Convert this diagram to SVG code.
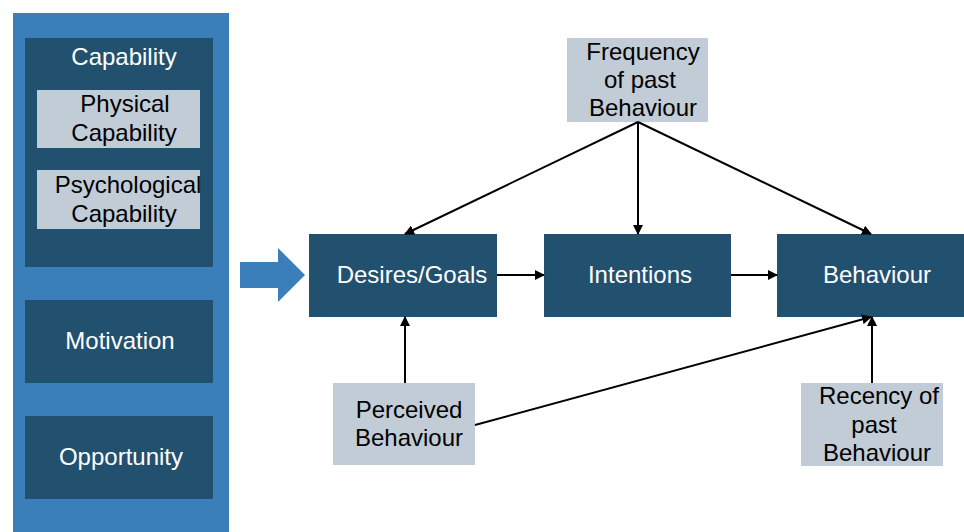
<svg xmlns="http://www.w3.org/2000/svg" width="964" height="532" viewBox="0 0 964 532">
<defs>
<style>
.outer{fill:#3A7EBA}
.dark{fill:#22506F}
.light{fill:#C2CCD7}
.wt{fill:#FFFFFF;font-family:"Liberation Sans",Arial,sans-serif;font-size:24px;text-anchor:middle}
.bt{fill:#000000;font-family:"Liberation Sans",Arial,sans-serif;font-size:24px;text-anchor:middle}
.conn{stroke:#000;stroke-width:2;fill:none;marker-end:url(#ah)}
</style>
<marker id="ah" viewBox="0 0 10 10" refX="9" refY="5" markerWidth="5" markerHeight="5" orient="auto" markerUnits="strokeWidth">
<path d="M0,0 L10,5 L0,10 z" fill="#000"/>
</marker>
</defs>
<rect width="964" height="532" fill="#FFFFFF"/>
<g id="com-b-panel">
<rect class="outer" x="13" y="13" width="216" height="525"/>
</g>
<g id="capability">
<rect class="dark" x="25" y="38" width="188" height="229"/>
<text class="wt" x="124" y="65">Capability</text>
</g>
<g id="physical-capability">
<rect class="light" x="37" y="90" width="163" height="58"/>
<text class="bt" x="125" y="112">Physical</text>
<text class="bt" x="124" y="141">Capability</text>
</g>
<g id="psychological-capability">
<rect class="light" x="37" y="170" width="163" height="59"/>
<text class="bt" x="128" y="193">Psychological</text>
<text class="bt" x="124" y="222">Capability</text>
</g>
<g id="motivation">
<rect class="dark" x="25" y="300" width="188" height="83"/>
<text class="wt" x="120" y="349">Motivation</text>
</g>
<g id="opportunity">
<rect class="dark" x="25" y="416" width="188" height="83"/>
<text class="wt" x="121" y="465">Opportunity</text>
</g>
<g id="big-arrow">
<path class="outer" d="M240,262 L278,262 L278,248 L305,275 L278,302 L278,288 L240,288 z"/>
</g>
<g id="desires-goals">
<rect class="dark" x="309" y="234" width="188" height="83"/>
<text class="wt" x="412" y="283">Desires/Goals</text>
</g>
<g id="intentions">
<rect class="dark" x="544" y="234" width="187" height="83"/>
<text class="wt" x="640" y="283">Intentions</text>
</g>
<g id="behaviour">
<rect class="dark" x="777" y="234" width="187" height="83"/>
<text class="wt" x="877" y="283">Behaviour</text>
</g>
<g id="frequency">
<rect class="light" x="567" y="38" width="141" height="84"/>
<text class="bt" x="643" y="60">Frequency</text>
<text class="bt" x="640" y="88">of past</text>
<text class="bt" x="643" y="116">Behaviour</text>
</g>
<g id="perceived">
<rect class="light" x="333" y="383" width="142" height="82"/>
<text class="bt" x="409" y="418">Perceived</text>
<text class="bt" x="409" y="446">Behaviour</text>
</g>
<g id="recency">
<rect class="light" x="801" y="383" width="142" height="83"/>
<text class="bt" x="879" y="404">Recency of</text>
<text class="bt" x="874" y="433">past</text>
<text class="bt" x="877" y="461">Behaviour</text>
</g>
<g id="connectors">
<line class="conn" x1="638" y1="122" x2="405" y2="234"/>
<line class="conn" x1="638" y1="122" x2="638" y2="234"/>
<line class="conn" x1="638" y1="122" x2="871" y2="234"/>
<line class="conn" x1="497" y1="275" x2="544" y2="275"/>
<line class="conn" x1="731" y1="275" x2="777" y2="275"/>
<line class="conn" x1="405" y1="383" x2="405" y2="317"/>
<line class="conn" x1="475" y1="425" x2="871" y2="317"/>
<line class="conn" x1="872" y1="383" x2="872" y2="317"/>
</g>
</svg>
